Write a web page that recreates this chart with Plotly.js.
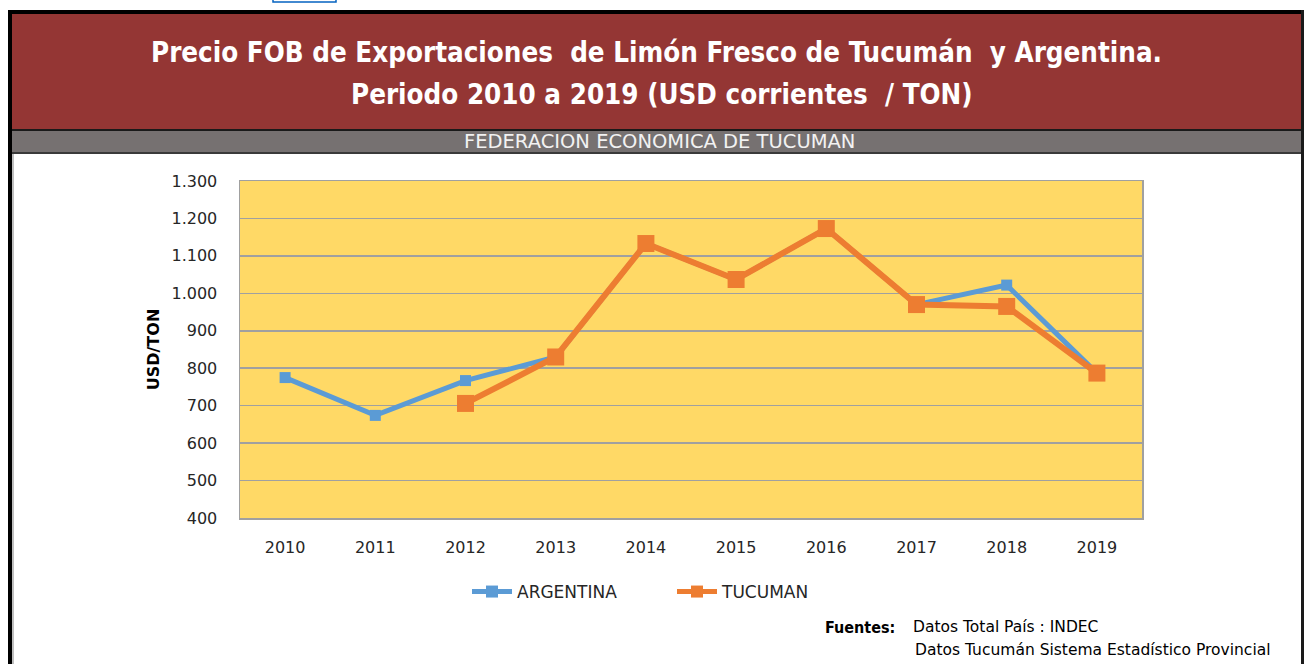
<!DOCTYPE html>
<html>
<head>
<meta charset="utf-8">
<script src="https://cdn.plot.ly/plotly-3.0.1.min.js"></script>
<style>
html,body{margin:0;padding:0;background:#fff;}
#chart{width:1304px;height:664px;}
</style>
</head>
<body>
<div id="chart"></div>
<script>
// ---- data ----
var years = ['2010','2011','2012','2013','2014','2015','2016','2017','2018','2019'];
var argentina = [775, 674, 767, 830, 1133, 1037, 1173, 970, 1022, 787];
var tucuman = [null, null, 706, 830, 1133, 1037, 1173, 970, 965, 787];
var seriesNames = ['ARGENTINA', 'TUCUMAN'];
var yTicks = [400, 500, 600, 700, 800, 900, 1000, 1100, 1200, 1300];
var titleLine1 = 'Precio FOB de Exportaciones  de Limón Fresco de Tucumán  y Argentina.';
var titleLine2 = 'Periodo 2010 a 2019 (USD corrientes  / TON)';
var subtitle = 'FEDERACION ECONOMICA DE TUCUMAN';
var yTitle = 'USD/TON';
var sourceLabel = 'Fuentes:';
var sourceLine1 = 'Datos Total País : INDEC';
var sourceLine2 = 'Datos Tucumán Sistema Estadístico Provincial';

// ---- layout geometry (pixels) ----
var W = 1304, H = 664;
var L = 240, R = 1142, T = 181, B = 518;
function px(x){ return (x - L) / (R - L); }
function py(y){ return (B - y) / (B - T); }
function rect(x0, y0, x1, y1, fill){
  return {type:'rect', xref:'paper', yref:'paper', x0:px(x0), x1:px(x1), y0:py(y0), y1:py(y1),
          fillcolor:fill, line:{width:0}, layer:'below'};
}

var narrow = 'DejaVu Sans Condensed, sans-serif';
var sans = 'DejaVu Sans, Verdana, sans-serif';

var traces = [
  {x: years, y: argentina, name: seriesNames[0], type:'scatter', mode:'lines+markers',
   line:{color:'#5B9BD5', width:5}, marker:{symbol:'square', size:11, color:'#5B9BD5'}},
  {x: years, y: tucuman, name: seriesNames[1], type:'scatter', mode:'lines+markers',
   connectgaps:false,
   line:{color:'#ED7D31', width:6}, marker:{symbol:'square', size:17, color:'#ED7D31'}}
];

var shapes = [
  rect(8, 10, 1304, 14, '#000000'),
  rect(8, 10, 12, 700, '#000000'),
  rect(1301, 10, 1304, 700, '#1a1a1a'),
  rect(12, 14, 1301, 129, '#943634'),
  rect(12, 129, 1301, 131, '#1a1a1a'),
  rect(12, 131, 1301, 152, '#767171'),
  rect(12, 152, 1301, 154, '#3a3a3a'),
  rect(12, 154, 14, 700, '#BFBFBF'),
  {type:'rect', xref:'paper', yref:'paper', x0:px(273), x1:px(336), y0:py(-3), y1:py(2),
   fillcolor:'rgba(0,0,0,0)', line:{color:'#0563C1', width:1.5}, layer:'below'}
];

var annotations = [
  {xref:'paper', yref:'paper', x:px(656), y:py(52), xanchor:'center', yanchor:'middle', showarrow:false,
   text:'<b>'+titleLine1+'</b>', font:{family:narrow, size:27.5, color:'#FFFFFF'}},
  {xref:'paper', yref:'paper', x:px(662), y:py(94), xanchor:'center', yanchor:'middle', showarrow:false,
   text:'<b>'+titleLine2+'</b>', font:{family:narrow, size:27.5, color:'#FFFFFF'}},
  {xref:'paper', yref:'paper', x:px(659), y:py(142), xanchor:'center', yanchor:'middle', showarrow:false,
   text:subtitle, font:{family:sans, size:19.5, color:'#F2F2F2'}},
  {xref:'paper', yref:'paper', x:px(897), y:py(627), xanchor:'right', yanchor:'middle', showarrow:false,
   text:'<b>'+sourceLabel+'</b>', font:{family:narrow, size:16, color:'#000000'}},
  {xref:'paper', yref:'paper', x:px(911), y:py(627), xanchor:'left', yanchor:'middle', showarrow:false,
   text:sourceLine1, font:{family:sans, size:15.5, color:'#000000'}},
  {xref:'paper', yref:'paper', x:px(913), y:py(650), xanchor:'left', yanchor:'middle', showarrow:false,
   text:sourceLine2, font:{family:sans, size:15.5, color:'#000000'}}
];

var layout = {
  width: W, height: H,
  margin: {l: L, r: W - R, t: T, b: H - B, pad: 0},
  paper_bgcolor: '#FFFFFF',
  plot_bgcolor: '#FFD966',
  separators: ',.',
  showlegend: true,
  legend: {orientation:'h', x:px(467), y:py(592), xanchor:'left', yanchor:'middle',
           font:{family:sans, size:17, color:'#262626'}, bgcolor:'rgba(0,0,0,0)',
           entrywidth:150, itemwidth:40, itemsizing:'constant'},
  xaxis: {type:'category', categoryarray: years, range:[-0.5, 9.5], fixedrange:true,
          showgrid:false, zeroline:false, showline:true, linecolor:'#A0A0A0', linewidth:1.5, mirror:true,
          ticks:'', ticklabelstandoff:14,
          tickfont:{family:sans, size:16, color:'#262626'}},
  yaxis: {range:[400, 1300], tickvals: yTicks, tickformat:',d', fixedrange:true,
          showgrid:true, gridcolor:'#A0A0A0', gridwidth:1.5, zeroline:false,
          showline:true, linecolor:'#A0A0A0', linewidth:1.5, mirror:true,
          ticks:'', ticklabelstandoff:18,
          tickfont:{family:sans, size:16, color:'#262626'},
          title:{text:'<b>'+yTitle+'</b>', standoff:8, font:{family:sans, size:16, color:'#000000'}}},
  shapes: shapes,
  annotations: annotations
};

Plotly.newPlot('chart', traces, layout, {displayModeBar:false, staticPlot:true});
</script>
</body>
</html>
